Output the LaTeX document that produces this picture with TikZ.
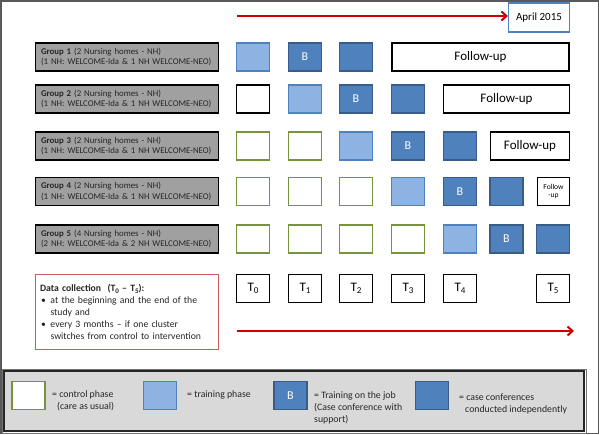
\documentclass[tikz,border=0pt]{standalone}
\usepackage{fontspec}
\setmainfont{Carlito}
\usetikzlibrary{arrows.meta}
\definecolor{lblue}{HTML}{8DB3E2}
\definecolor{lblueb}{HTML}{4F81BD}
\definecolor{dblue}{HTML}{4F81BD}
\definecolor{dblueb}{HTML}{385D8A}
\definecolor{olivegreen}{HTML}{77933C}
\definecolor{arrowred}{HTML}{CC0000}
\definecolor{boxred}{HTML}{D05A57}
\definecolor{grpgray}{HTML}{A0A0A0}
\definecolor{leggray}{HTML}{D9D9D9}
\definecolor{framegray}{HTML}{595959}
\newcommand\lowsub[1]{\raisebox{-0.35ex}{\fontsize{9}{9}\selectfont #1}}
\newcommand\lowsubsmall[1]{\raisebox{-0.3ex}{\fontsize{7}{7}\selectfont #1}}
\newcommand\grouptext[3]{\mbox{\textbf{Group #1} (#2 Nursing homes - NH)}\\\mbox{#3}}
\begin{document}
\begin{tikzpicture}[x=1pt,y=-1pt,
 sq/.style={minimum width=33pt, minimum height=28pt, inner sep=0pt, line width=1.1pt},
 ctrl/.style={sq, draw=olivegreen, fill=white},
 blank/.style={sq, draw=black, fill=white, line width=1.3pt},
 train/.style={sq, draw=lblueb, fill=lblue},
 job/.style={sq, draw=dblueb, fill=dblue, text=white, font=\fontsize{12}{12}\selectfont},
 conf/.style={sq, draw=dblueb, fill=dblue},
 follow/.style={draw=black, line width=1.3pt, fill=white, minimum height=28pt, inner sep=0pt, font=\fontsize{13}{13}\selectfont},
 group/.style={draw=black, line width=1.4pt, fill=grpgray, minimum width=183pt, minimum height=28pt, text width=172pt, align=left, inner sep=0pt, font=\fontsize{8.8}{10.6}\selectfont, text=black!85},
 tbox/.style={blank, font=\fontsize{13}{13}\selectfont},
 redarrow/.style={draw=arrowred, line width=2pt, -{Straight Barb[length=5pt,width=9pt]}},
 legtext/.style={anchor=west, align=left, font=\fontsize{9.8}{12}\selectfont, inner sep=0pt, text=black!85},
]
\useasboundingbox (0,0) rectangle (600,435);
\fill[white] (0,0) rectangle (600,435);
\draw[framegray, line width=1.5pt] (1,1) rectangle (598.5,433.5);

% timeline top
\node[draw=lblueb, line width=1.1pt, fill=white, minimum width=61pt, minimum height=29pt, inner sep=0pt, font=\fontsize{11}{11}\selectfont] (april) at (539,17.5) {April 2015};
\coordinate (topstart) at (237,16);
\draw[redarrow] (topstart) -- (topstart -| april.west);

% groups
\node[group] (g1) at (127,57) {\grouptext{1}{2}{(1 NH: WELCOME-Ida \& 1 NH WELCOME-NEO)}};
\node[group] (g2) at (127,99) {\grouptext{2}{2}{(1 NH: WELCOME-Ida \& 1 NH WELCOME-NEO)}};
\node[group] (g3) at (127,146) {\grouptext{3}{2}{(1 NH: WELCOME-Ida \& 1 NH WELCOME-NEO)}};
\node[group] (g4) at (127,191.5) {\grouptext{4}{2}{(1 NH: WELCOME-Ida \& 1 NH WELCOME-NEO)}};
\node[group] (g5) at (127,239) {\grouptext{5}{4}{(2 NH: WELCOME-Ida \& 2 NH WELCOME-NEO)}};

% row 1
\node[train] (r1c1) at (253,57) {};
\node[job] (r1c2) at (305,57) {B};
\node[conf] (r1c3) at (356,57) {};
\node[follow, minimum width=177pt] (r1f) at (480.5,57) {Follow-up};
% row 2
\node[blank] (r2c1) at (253,99) {};
\node[train] (r2c2) at (305,99) {};
\node[job] (r2c3) at (356,99) {B};
\node[conf] (r2c4) at (408,99) {};
\node[follow, minimum width=126pt] (r2f) at (506.5,99) {Follow-up};
% row 3
\node[ctrl] (r3c1) at (253,146) {};
\node[ctrl] (r3c2) at (305,146) {};
\node[train] (r3c3) at (356,146) {};
\node[job] (r3c4) at (408,146) {B};
\node[conf] (r3c5) at (460,146) {};
\node[follow, minimum width=79pt] (r3f) at (530,146) {Follow-up};
% row 4
\node[ctrl] (r4c1) at (253,191.5) {};
\node[ctrl] (r4c2) at (305,191.5) {};
\node[ctrl] (r4c3) at (356,191.5) {};
\node[train] (r4c4) at (408,191.5) {};
\node[job] (r4c5) at (460,191.5) {B};
\node[conf] (r4c6) at (506.5,191.5) {};
\node[follow, minimum width=32pt, align=center, font=\fontsize{7.5}{8.5}\selectfont] (r4f) at (553.5,191.5) {Follow\\-up};
% row 5
\node[ctrl] (r5c1) at (253,239) {};
\node[ctrl] (r5c2) at (305,239) {};
\node[ctrl] (r5c3) at (356,239) {};
\node[ctrl] (r5c4) at (408,239) {};
\node[train] (r5c5) at (460,239) {};
\node[job] (r5c6) at (506.5,239) {B};
\node[conf] (r5c7) at (553,239) {};

% data collection
\node[draw=boxred, line width=1.2pt, fill=white, minimum width=183pt, minimum height=75pt, text width=174pt, inner sep=0pt, align=left, font=\fontsize{9.7}{11.8}\selectfont, text=black!85] (data) at (127,312) {\textbf{Data collection\ \ (T\lowsubsmall{0} -- T\lowsubsmall{5}):}\\
\makebox[10.5pt][l]{\hspace*{1pt}\textbullet}at the beginning and the end of the\\
\hspace*{10.5pt}study and\\
\makebox[10.5pt][l]{\hspace*{1pt}\textbullet}every 3 months -- if one cluster\\
\hspace*{10.5pt}switches from control to intervention};

% T boxes
\node[tbox] (t0) at (253,288.5) {T\lowsub{0}};
\node[tbox] (t1) at (305,288.5) {T\lowsub{1}};
\node[tbox] (t2) at (356,288.5) {T\lowsub{2}};
\node[tbox] (t3) at (408,288.5) {T\lowsub{3}};
\node[tbox] (t4) at (460,288.5) {T\lowsub{4}};
\node[tbox] (t5) at (553,288.5) {T\lowsub{5}};

\coordinate (botstart) at (237,331);
\coordinate (botend) at (574,331);
\draw[redarrow] (botstart) -- (botend);

% legend
\draw[black!55, line width=0.6pt] (2,369) rectangle (586,433);
\node[draw=black!85, line width=1.5pt, fill=leggray, minimum width=580pt, minimum height=60pt, inner sep=0pt] (legend) at (294,401) {};
\node[ctrl] (lc) at (28.5,395.5) {};
\node[legtext] (lct) at (52,401) {= control phase\\\hspace*{5pt}(care as usual)};
\node[train] (lt) at (160,395.5) {};
\node[legtext] (ltt) at (187,395) {= training phase};
\node[job] (lj) at (290.5,395.5) {B};
\node[legtext] (ljt) at (314,408) {= Training on the job\\(Case conference with\\support)};
\node[conf] (lf) at (432,395.5) {};
\node[legtext] (lft) at (459,403.5) {= case conferences\\\hspace*{6pt}conducted independently};
\end{tikzpicture}
\end{document}
